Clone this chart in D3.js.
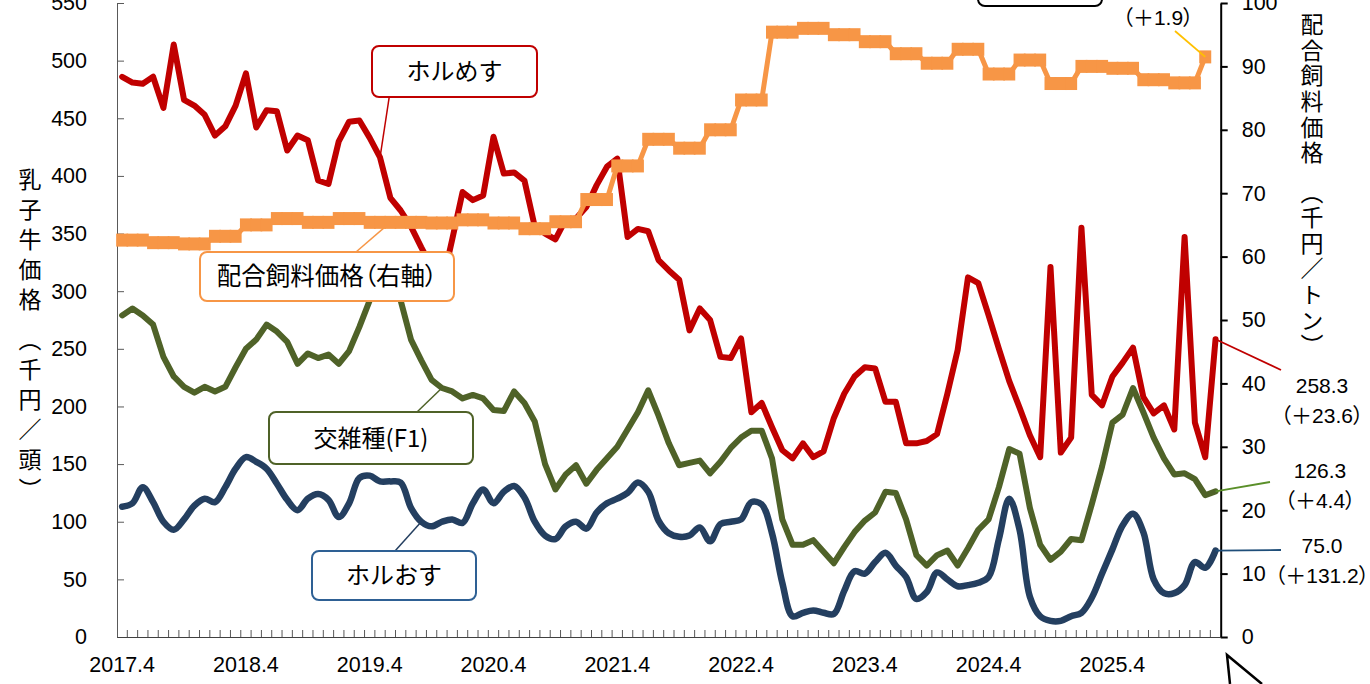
<!DOCTYPE html>
<html>
<head>
<meta charset="utf-8">
<script src="https://cdn.jsdelivr.net/npm/d3@7"></script>
<style>
  body { margin: 0; background: #fff; }
  svg { display: block; font-family: "Liberation Sans", "Noto Sans CJK JP", sans-serif; }
  .note text { font-family: "Noto Sans CJK JP", sans-serif; font-size: 24px; }
  .note text.palt { font-feature-settings: "palt"; font-size: 24.5px; }
  .ends text { font-feature-settings: "palt"; }
  .title { font-family: "Noto Sans CJK JP", sans-serif; font-size: 23px; writing-mode: vertical-rl; }
</style>
</head>
<body>
<svg width="1370" height="684"></svg>
<script>
// 乳子牛価格 (千円/頭), monthly 2017.4 - 2026.2
const holMesu = [486, 481, 480, 486, 459, 514, 466, 461, 453, 435, 443, 461,
  489, 442, 457, 456, 422, 435, 431, 396, 393, 430, 447, 448,
  433, 416, 381, 370, 356, 338, 321, 305, 345, 386, 379, 383,
  434, 402, 403, 396, 356, 350, 345, 362, 363, 373, 392, 408,
  415, 347, 354, 352, 327, 318, 310, 266, 285, 275, 243, 242,
  259, 195, 203, 182, 162, 155, 168, 156, 161, 190, 211, 226,
  234, 233, 204, 204, 168, 168, 170, 176, 211, 249, 312, 307,
  279, 250, 222, 199, 175, 156, 321, 160, 173, 355, 210, 201,
  226, 238, 251, 208, 194, 201, 180, 347, 186, 156, 258.3];

const crossF1 = [279, 285, 279, 271, 243, 226, 217, 212, 217, 213, 217, 234,
  250, 258, 271, 265, 256, 237, 246, 242, 245, 237, 248, 269,
  292, 312, 315, 292, 258, 240, 223, 216, 213, 207, 210, 207,
  197, 196, 213, 203, 187, 150, 128, 141, 149, 133, 145, 155,
  165, 180, 195, 214, 192, 168, 149, 151, 153, 142, 152, 164,
  173, 179, 179, 155, 102, 80, 80, 84, 74, 64, 78, 91,
  101, 108, 126, 125, 102, 71, 62, 71, 75, 62, 77, 93,
  102, 130, 163, 159, 112, 80, 67, 74, 85, 84, 115, 148,
  186, 193, 216, 195, 173, 155, 141, 142, 137, 123, 126.3];

const holOsu = [113, 116, 130, 117, 100, 93, 102, 114, 120, 117, 130, 146,
  156, 152, 146, 133, 119, 110, 120, 124, 119, 104, 116, 138,
  140, 135, 135, 134, 112, 100, 96, 100, 102, 99, 116, 128,
  116, 126, 131, 121, 100, 88, 85, 96, 100, 94, 108, 116,
  120, 125, 134, 126, 101, 90, 87, 88, 95, 83, 98, 100,
  102, 117, 115, 90, 47, 18, 21, 23, 21, 20, 40, 57,
  55, 65, 73, 62, 52, 33, 39, 56, 50, 44, 45, 47,
  52, 85, 120, 93, 35, 18, 14, 14, 18, 21, 34, 55,
  76, 97, 107, 91, 50, 38, 38, 45, 65, 60, 75.0];

// 配合飼料価格 (千円/トン), monthly 2017.4 - 2026.1
const feed = [62.6, 62.6, 62.6, 62.2, 62.2, 62.2, 62.0, 62.0, 62.0, 63.2, 63.2, 63.2,
  65.0, 65.0, 65.0, 66.0, 66.0, 66.0, 65.4, 65.4, 65.4, 66.0, 66.0, 66.0,
  65.4, 65.4, 65.4, 65.4, 65.4, 65.4, 65.3, 65.3, 65.3, 65.8, 65.8, 65.8,
  65.3, 65.3, 65.3, 64.4, 64.4, 64.4, 65.5, 65.5, 65.5, 69.0, 69.0, 69.0,
  74.3, 74.3, 74.3, 78.5, 78.5, 78.5, 77.1, 77.1, 77.1, 80.0, 80.0, 80.0,
  84.7, 84.7, 84.7, 95.4, 95.4, 95.4, 96.0, 96.0, 96.0, 95.0, 95.0, 95.0,
  93.9, 93.9, 93.9, 92.0, 92.0, 92.0, 90.5, 90.5, 90.5, 92.7, 92.7, 92.7,
  88.8, 88.8, 88.8, 91.0, 91.0, 91.0, 87.3, 87.3, 87.3, 90.0, 90.0, 90.0,
  89.7, 89.7, 89.7, 87.9, 87.9, 87.9, 87.4, 87.4, 87.4, 91.5];

const yearLabels = ['2017.4', '2018.4', '2019.4', '2020.4', '2021.4',
  '2022.4', '2023.4', '2024.4', '2025.4'];
const leftTicks = [0, 50, 100, 150, 200, 250, 300, 350, 400, 450, 500, 550];
const rightTicks = [0, 10, 20, 30, 40, 50, 60, 70, 80, 90, 100];

// category keys, one per month starting 2017.4
const months = holMesu.map(function(d, i) {
  const m = 3 + i;
  return (2017 + Math.floor(m / 12)) + '.' + (m % 12 + 1);
});

const svg = d3.select('svg');

const x = d3.scaleBand().domain(months).range([117, 1220.7]);
const cx = function(i) { return x(months[i]) + x.bandwidth() / 2; };
const yL = d3.scaleLinear().domain([0, 550]).range([637, 3]);
const yR = d3.scaleLinear().domain([0, 100]).range([637, 3]);

// --- axes
const left = svg.append('g').attr('transform', 'translate(117,0)')
  .call(d3.axisLeft(yL).tickValues(leftTicks).tickSize(-7).tickSizeOuter(0).tickPadding(30));
left.selectAll('.domain, line').attr('stroke', '#595959');

const right = svg.append('g').attr('transform', 'translate(1220.7,0)')
  .call(d3.axisRight(yR).tickValues(rightTicks).tickSize(7).tickSizeOuter(0).tickPadding(14));
right.selectAll('.domain, line').attr('stroke', '#000').attr('stroke-width', 2);

const bottom = svg.append('g').attr('transform', 'translate(0,637)')
  .call(d3.axisBottom(x)
    .tickValues(months.filter(function(d, i) { return i % 12 === 0; }))
    .tickFormat(function(d, i) { return yearLabels[i]; })
    .tickSize(0).tickSizeOuter(0).tickPadding(20));
bottom.select('.domain').attr('stroke', '#404040');

// small month ticks on band edges, pointing up
svg.append('g').selectAll('line')
  .data(months.slice(1))
  .join('line')
  .attr('x1', function(d) { return x(d); })
  .attr('x2', function(d) { return x(d); })
  .attr('y1', 637).attr('y2', 630)
  .attr('stroke', '#595959');

svg.selectAll('.tick text').attr('font-size', 21.5).attr('fill', '#000')
  .attr('font-family', '"Liberation Sans", sans-serif');
left.attr('font-size', null).attr('font-family', null);
right.attr('font-size', null).attr('font-family', null);
bottom.attr('font-size', null).attr('font-family', null);

// --- series
function draw(values, scale, color, width, curve) {
  svg.append('path')
    .datum(values)
    .attr('fill', 'none')
    .attr('stroke', color)
    .attr('stroke-width', width)
    .attr('stroke-linejoin', 'round')
    .attr('stroke-linecap', 'round')
    .attr('d', d3.line()
      .x(function(d, i) { return cx(i); })
      .y(function(d) { return scale(d); })
      .curve(curve || d3.curveLinear));
}

draw(holMesu, yL, '#c00000', 6);
draw(crossF1, yL, '#4f6228', 6);
draw(holOsu, yL, '#243f60', 6.5, d3.curveCatmullRom);
draw(feed, yR, '#f79646', 5);

// square markers on the feed price
svg.append('g').selectAll('rect')
  .data(feed)
  .join('rect')
  .attr('x', function(d, i) { return cx(i) - 6; })
  .attr('y', function(d) { return yR(d) - 6.5; })
  .attr('width', 12).attr('height', 13)
  .attr('fill', '#f79646');

// --- callout boxes with leader lines
const notes = [
  { text: 'ホルめす', x: 372, y: 46, w: 165, h: 51, lx: 397, color: '#c00000',
    lead: '#c00000', to: [cx(25), yL(holMesu[25])] },
  { text: '配合飼料価格（右軸）', x: 200, y: 252, w: 254, h: 49, lx: 356, color: '#f79646',
    lead: '#f79646', to: [cx(26), yR(feed[26])], cls: 'palt' },
  { text: '交雑種(F1)', x: 269, y: 412, w: 204, h: 52, lx: 417, color: '#4f6228',
    lead: '#4f6228', to: [cx(31), yL(crossF1[31])] },
  { text: 'ホルおす', x: 312, y: 551, w: 164, h: 49, lx: 395, color: '#2e6094',
    lead: '#243f60', to: [cx(29), yL(holOsu[29])] },
];

const note = svg.append('g').attr('class', 'note').selectAll('g')
  .data(notes).join('g');
note.append('line')
  .attr('x1', function(d) { return d.lx; })
  .attr('y1', function(d) { return d.y; })
  .attr('x2', function(d) { return d.to[0]; })
  .attr('y2', function(d) { return d.to[1]; })
  .attr('stroke', function(d) { return d.lead; })
  .attr('stroke-width', 1.5);
note.append('rect')
  .attr('x', function(d) { return d.x; })
  .attr('y', function(d) { return d.y; })
  .attr('width', function(d) { return d.w; })
  .attr('height', function(d) { return d.h; })
  .attr('rx', 7)
  .attr('fill', '#fff')
  .attr('stroke', function(d) { return d.color; })
  .attr('stroke-width', 2);
note.append('text')
  .attr('class', function(d) { return d.cls || null; })
  .attr('x', function(d) { return d.x + d.w / 2; })
  .attr('y', function(d) { return d.y + d.h / 2; })
  .attr('dy', '0.36em')
  .attr('text-anchor', 'middle')
  .text(function(d) { return d.text; });

// --- latest values at the right edge
const last = holMesu.length - 1;
const ends = [
  { lines: ['（＋1.9）'], tx: 1158, ty: 17, lead: '#ffc000',
    from: [cx(feed.length - 1), yR(feed[feed.length - 1])], to: [1175, 31] },
  { lines: ['258.3', '（＋23.6）'], tx: 1322, ty: 385, lead: '#c00000',
    from: [cx(last), yL(holMesu[last])], to: [1281, 370] },
  { lines: ['126.3', '（＋4.4）'], tx: 1320, ty: 470, lead: '#5a8f29',
    from: [cx(last), yL(crossF1[last])], to: [1270, 482] },
  { lines: ['75.0', '（＋131.2）'], tx: 1322, ty: 545, lead: '#1f4e79',
    from: [cx(last), yL(holOsu[last])], to: [1281, 550] },
];

const endsG = svg.append('g').attr('class', 'ends');
ends.forEach(function(e) {
  endsG.append('line')
    .attr('x1', e.from[0]).attr('y1', e.from[1])
    .attr('x2', e.to[0]).attr('y2', e.to[1])
    .attr('stroke', e.lead).attr('stroke-width', 1.8);
  e.lines.forEach(function(t, k) {
    endsG.append('text')
      .attr('x', e.tx).attr('y', e.ty + k * 30)
      .attr('dy', '0.36em')
      .attr('text-anchor', 'middle')
      .attr('font-size', 21)
      .text(t);
  });
});

// --- axis titles, written top to bottom (unit part set a little lower)
const tl = svg.append('text').attr('class', 'title')
  .attr('x', 30).attr('y', 168)
  .attr('letter-spacing', 7);
tl.append('tspan').text('乳子牛価格');
tl.append('tspan').attr('x', 30).attr('y', 328).text('（千円／頭）');

const tr = svg.append('text').attr('class', 'title')
  .attr('x', 1312).attr('y', 13)
  .attr('letter-spacing', 2.6);
tr.append('tspan').text('配合飼料価格');
tr.append('tspan').attr('x', 1312).attr('y', 180).text('（千円／トン）');

// clipped frames at the top and bottom right
svg.append('rect')
  .attr('x', 978).attr('y', -20).attr('width', 124).attr('height', 26)
  .attr('rx', 7).attr('fill', '#fff').attr('stroke', '#000').attr('stroke-width', 2);
svg.append('path')
  .attr('d', 'M1230,684L1227,655L1262,684')
  .attr('fill', 'none').attr('stroke', '#000').attr('stroke-width', 2.5);
</script>
</body>
</html>
